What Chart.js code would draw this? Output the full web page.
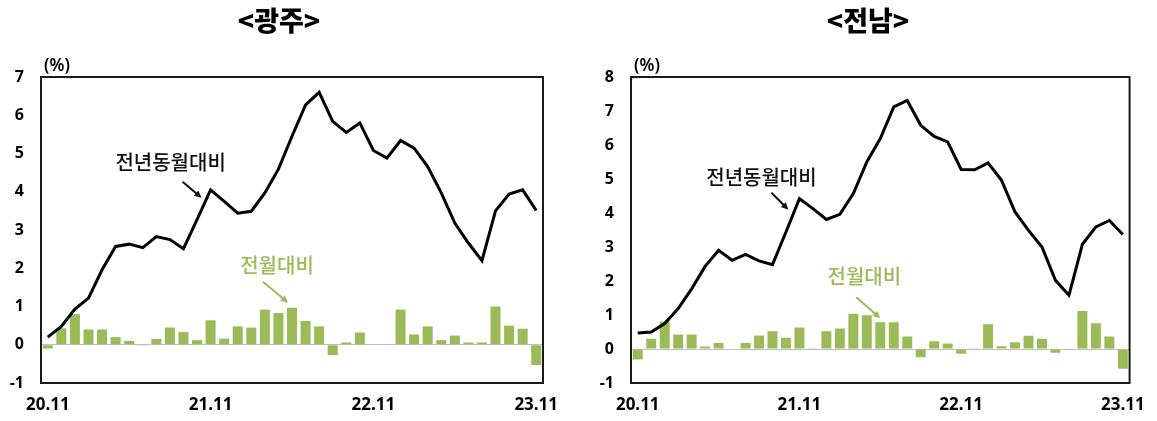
<!DOCTYPE html>
<html>
<head>
<meta charset="utf-8">
<script src="https://cdn.jsdelivr.net/npm/chart.js@4.4.0/dist/chart.umd.min.js"></script>
<style>
  html, body { margin: 0; padding: 0; background: #fff; }
  body { width: 1157px; height: 421px; position: relative; overflow: hidden; }
  canvas { position: absolute; top: 0; }
</style>
</head>
<body>
<canvas id="c1" width="575" height="421" style="left:0px"></canvas>
<canvas id="c2" width="567" height="421" style="left:590px"></canvas>
<script>
// ---- data ----
const months = ['20.11','20.12','21.01','21.02','21.03','21.04','21.05','21.06','21.07','21.08','21.09','21.10',
                '21.11','21.12','22.01','22.02','22.03','22.04','22.05','22.06','22.07','22.08','22.09','22.10',
                '22.11','22.12','23.01','23.02','23.03','23.04','23.05','23.06','23.07','23.08','23.09','23.10','23.11'];
const shownTicks = ['20.11','21.11','22.11','23.11'];

const gwangjuYoY = [0.2,0.48,0.93,1.22,1.96,2.57,2.63,2.54,2.83,2.75,2.51,3.27,4.05,3.75,3.44,3.49,3.97,4.59,5.45,6.27,6.6,5.84,5.55,5.8,5.08,4.88,5.34,5.14,4.66,3.97,3.18,2.66,2.2,3.5,3.94,4.05,3.51];
const gwangjuMoM = [-0.1,0.43,0.8,0.4,0.4,0.2,0.1,-0.02,0.15,0.45,0.33,0.12,0.64,0.16,0.48,0.45,0.92,0.83,0.97,0.62,0.48,-0.27,0.06,0.32,0,0,0.92,0.27,0.48,0.12,0.24,0.06,0.06,1.0,0.5,0.42,-0.53];

const jeonnamYoY = [0.47,0.5,0.75,1.19,1.77,2.43,2.9,2.61,2.78,2.59,2.48,3.44,4.42,4.13,3.81,3.96,4.57,5.5,6.19,7.12,7.31,6.58,6.25,6.09,5.28,5.27,5.47,4.96,4.03,3.49,3.0,2.02,1.58,3.08,3.59,3.78,3.37];
const jeonnamMoM = [-0.31,0.3,0.81,0.43,0.43,0.07,0.18,0,0.18,0.4,0.52,0.33,0.63,0.02,0.52,0.6,1.04,0.99,0.79,0.79,0.37,-0.24,0.23,0.16,-0.14,0.02,0.73,0.08,0.2,0.39,0.3,-0.11,-0.03,1.12,0.76,0.37,-0.58];

const yoyLabel = '전년동월대비';
const momLabel = '전월대비';

// ---- styles ----
const GREEN = '#9BBB59';
const KFONT = '"Noto Sans CJK KR", "Noto Sans", sans-serif';
const NFONT = '"Noto Sans", "DejaVu Sans", sans-serif';

function arrow(ctx, x1, y1, x2, y2, color) {
  ctx.save();
  ctx.strokeStyle = color; ctx.fillStyle = color; ctx.lineWidth = 2;
  const a = Math.atan2(y2 - y1, x2 - x1), h = 8;
  ctx.beginPath(); ctx.moveTo(x1, y1); ctx.lineTo(x2 - Math.cos(a) * h * 0.7, y2 - Math.sin(a) * h * 0.7); ctx.stroke();
  ctx.beginPath();
  ctx.moveTo(x2, y2);
  ctx.lineTo(x2 - h * Math.cos(a - 0.45), y2 - h * Math.sin(a - 0.45));
  ctx.lineTo(x2 - h * Math.cos(a + 0.45), y2 - h * Math.sin(a + 0.45));
  ctx.closePath(); ctx.fill();
  ctx.restore();
}

function makeChart(id, title, titleX, yoy, mom, yMax, padRight, ann) {
  const deco = {
    id: 'deco',
    afterDraw(chart) {
      const ctx = chart.ctx, a = chart.chartArea;
      const xs = chart.scales.x, ys = chart.scales.y;
      ctx.save();
      // frame
      ctx.strokeStyle = '#1a1a1a'; ctx.lineWidth = 2;
      ctx.strokeRect(a.left, a.top, a.right - a.left, a.bottom - a.top);
      // title
      ctx.fillStyle = '#000';
      ctx.font = '900 27px ' + KFONT;
      ctx.textAlign = 'center'; ctx.textBaseline = 'middle';
      ctx.fillText(title, titleX, 21);
      // unit
      ctx.font = '600 17px ' + NFONT;
      ctx.fillText('(%)', a.left + 16, a.top - 11);
      // annotations
      const t1x = xs.getPixelForValue(ann.yoyIdx), t1y = ys.getPixelForValue(yoy[ann.yoyIdx]);
      ctx.font = '500 20px ' + KFONT;
      ctx.fillStyle = '#111';
      ctx.fillText(yoyLabel, t1x + ann.yoyText[0], t1y + ann.yoyText[1]);
      arrow(ctx, t1x + ann.yoyFrom[0], t1y + ann.yoyFrom[1], t1x + ann.yoyTo[0], t1y + ann.yoyTo[1], '#111');
      const t2x = xs.getPixelForValue(ann.momIdx), t2y = ys.getPixelForValue(mom[ann.momIdx]);
      ctx.fillStyle = GREEN;
      ctx.fillText(momLabel, t2x + ann.momText[0], t2y + ann.momText[1]);
      arrow(ctx, t2x + ann.momFrom[0], t2y + ann.momFrom[1], t2x + ann.momTo[0], t2y + ann.momTo[1], GREEN);
      ctx.restore();
    }
  };
  return new Chart(document.getElementById(id), {
    type: 'bar',
    data: {
      labels: months,
      datasets: [
        { type: 'line', label: yoyLabel, data: yoy, borderColor: '#000', borderWidth: 3,
          pointRadius: 0, tension: 0, fill: false, order: 0 },
        { type: 'bar', label: momLabel, data: mom, backgroundColor: GREEN, borderWidth: 0,
          barPercentage: 0.74, categoryPercentage: 1.0, order: 1 }
      ]
    },
    options: {
      responsive: false, animation: false, devicePixelRatio: 1,
      layout: { padding: { top: 77, right: padRight, left: 0, bottom: 0 } },
      plugins: { legend: { display: false }, title: { display: false }, tooltip: { enabled: false } },
      scales: {
        x: {
          offset: true,
          grid: { display: false, drawTicks: false },
          border: { display: false },
          ticks: {
            autoSkip: false, maxRotation: 0, minRotation: 0, padding: 12,
            color: '#000', font: { family: NFONT, size: 17, weight: 'bold' },
            callback: (v, i) => shownTicks.includes(months[i]) ? months[i] : ''
          },
          afterFit: s => { s.height = 38; }
        },
        y: {
          min: -1, max: yMax,
          grid: { drawTicks: false, lineWidth: 1,
                  color: c => (c.tick && c.tick.value === 0) ? '#c0c0c0' : 'rgba(0,0,0,0)' },
          border: { display: false },
          ticks: { stepSize: 1, padding: 17, color: '#000',
                   font: { family: NFONT, size: 16, weight: 'bold' } },
          afterFit: s => { s.width = 41; }
        }
      }
    },
    plugins: [deco]
  });
}

makeChart('c1', '<광주>', 279, gwangjuYoY, gwangjuMoM, 7, 32, {
  yoyIdx: 12, yoyText: [-40, -27], yoyFrom: [-28, -8], yoyTo: [-9, 8],
  momIdx: 18, momText: [-15, -42], momFrom: [-29, -26], momTo: [-4, -5]
});
makeChart('c2', '<전남>', 868 - 590, jeonnamYoY, jeonnamMoM, 8, 24, {
  yoyIdx: 12, yoyText: [-38, -21], yoyFrom: [-28, -6], yoyTo: [-11, 11],
  momIdx: 18, momText: [-16, -46], momFrom: [-24, -25], momTo: [0, -4]
});
</script>
</body>
</html>
